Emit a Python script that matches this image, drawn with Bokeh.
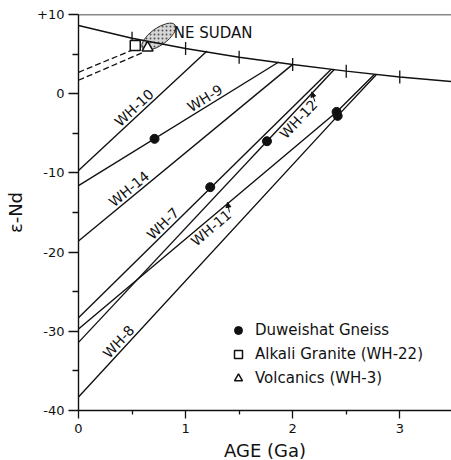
import math
import numpy as np
from bokeh.plotting import figure
from bokeh.models import (Span, Legend, LegendItem, Arrow, NormalHead, FixedTicker,
                          Range1d, Label)
from bokeh.embed import file_html
from bokeh.resources import INLINE
from bokeh.core.properties import value

# ---------------- data ----------------
# depleted-mantle evolution curve
dm_age = [0.0, 0.5, 1.0, 1.5, 2.0, 2.5, 3.0, 3.5]
dm_eps = [8.6, 7.0, 5.7, 4.6, 3.7, 2.85, 2.1, 1.5]
dm_tick_ages = [0.5, 1.0, 1.5, 2.0, 2.5, 3.0]

# Nd evolution lines of the samples
wh10_age = [0.0, 1.20]
wh10_eps = [-9.7, 5.4]
wh9_age = [0.0, 1.87]
wh9_eps = [-11.6, 4.0]
wh14_age = [0.0, 2.00]
wh14_eps = [-18.6, 3.7]
wh7_age = [0.0, 2.36]
wh7_eps = [-28.3, 3.1]
wh12_age = [0.0, 2.39]
wh12_eps = [-31.4, 3.1]
wh11_age = [0.0, 2.41, 2.76]
wh11_eps = [-29.7, -2.3, 2.4]
wh8_age = [0.0, 2.42, 2.78]
wh8_eps = [-38.3, -2.8, 2.4]

# Duweishat Gneiss (crystallisation ages)
gneiss_age = [0.71, 1.23, 1.76, 2.41, 2.42]
gneiss_eps = [-5.7, -11.8, -6.0, -2.3, -2.8]

# Alkali granite (WH-22) and volcanics (WH-3)
granite_age = [0.53]
granite_eps = [6.1]
granite_line_age = [0.0, 0.50]
granite_line_eps = [2.7, 5.5]
volc_age = [0.645]
volc_eps = [5.8]
volc_line_age = [0.0, 0.60]
volc_line_eps = [1.7, 5.2]

# NE Sudan field
sudan_age = [0.75]
sudan_eps = [7.2]

x_ticks = [0, 1, 2, 3]
x_minor = [0.5, 1.5, 2.5]
y_ticks = [-40, -30, -20, -10, 0, 10]
y_minor = [-35, -25, -15, -5, 5]
y_tick_labels = ["-40", "-30", "-20", "-10", "0", "+10"]

# ---------------- figure ----------------
FONT = "DejaVu Sans"
INK = "#111111"
X0, X1 = 0.0, 3.483
Y0, Y1 = -40.0, 10.0
FW, FH = 373, 396
KX = FW / (X1 - X0)
KY = FH / (Y1 - Y0)

p = figure(frame_width=FW, frame_height=FH,
           x_range=Range1d(X0, X1), y_range=Range1d(Y0, Y1),
           output_backend="svg", toolbar_location=None,
           min_border_left=78, min_border_right=0, min_border_top=14,
           min_border_bottom=8)
p.outline_line_color = None
p.grid.visible = False
p.background_fill_color = "white"

xa = p.xaxis[0]
xa.ticker = FixedTicker(ticks=x_ticks, minor_ticks=x_minor)
xa.major_label_overrides = {t: str(t) for t in x_ticks}
xa.major_tick_out = 8
xa.major_tick_in = 0
xa.minor_tick_out = 4
xa.minor_tick_in = 0
xa.major_label_standoff = 5
xa.axis_label = "AGE (Ga)"
xa.axis_label_standoff = 4

ya = p.yaxis[0]
ya.ticker = FixedTicker(ticks=y_ticks, minor_ticks=y_minor)
ya.major_label_overrides = {t: l for t, l in zip(y_ticks, y_tick_labels)}
ya.major_tick_out = 10
ya.major_tick_in = 0
ya.minor_tick_out = 6
ya.minor_tick_in = 0
ya.major_label_standoff = 4
ya.axis_label = "ε-Nd"
ya.axis_label_standoff = 8

for ax in (xa, ya):
    ax.axis_line_color = INK
    ax.axis_line_width = 1.4
    ax.major_tick_line_color = INK
    ax.major_tick_line_width = 1.3
    ax.minor_tick_line_color = INK
    ax.minor_tick_line_width = 1.3
    ax.major_label_text_font = FONT
    ax.major_label_text_font_size = "13px"
    ax.major_label_text_color = INK
    ax.axis_label_text_font = FONT
    ax.axis_label_text_font_size = "18px"
    ax.axis_label_text_font_style = "normal"
    ax.axis_label_text_color = INK

# top frame line at +10
p.add_layout(Span(location=Y1, dimension="width", line_color=INK, line_width=1.3))

# NE Sudan field (stippled)
p.ellipse(x=sudan_age, y=sudan_eps, width=40, height=17, angle=0.62,
          width_units="screen", height_units="screen",
          fill_color="#d6d6d6", line_color="#333333", line_width=1,
          hatch_pattern=".", hatch_color="#555555", hatch_scale=4, hatch_weight=1)
p.add_layout(Label(x=sudan_age[0], y=sudan_eps[0], x_offset=15, y_offset=4,
                   text="NE SUDAN", text_font=FONT, text_font_size="15px",
                   text_color=INK, text_baseline="middle", text_align="left"))

# depleted mantle curve and its age ticks
p.line(dm_age, dm_eps, line_color=INK, line_width=1.5)
p.scatter(x=dm_tick_ages, y=list(np.interp(dm_tick_ages, dm_age, dm_eps)),
          marker="dash", angle=math.pi / 2, size=13, line_color=INK, line_width=1.3)

# sample evolution lines
sample_lines = [
    ("WH-10", wh10_age, wh10_eps, 0.57, "above", False),
    ("WH-9", wh9_age, wh9_eps, 1.22, "above", False),
    ("WH-14", wh14_age, wh14_eps, 0.52, "above", False),
    ("WH-7", wh7_age, wh7_eps, 0.84, "above", False),
    ("WH-12", wh12_age, wh12_eps, 2.00, "below", True),
    ("WH-11", wh11_age, wh11_eps, 1.19, "below", True),
    ("WH-8", wh8_age, wh8_eps, 0.43, "above", False),
]
for name, xs, ys, ax_, side, arrow in sample_lines:
    p.line(xs, ys, line_color=INK, line_width=1.4)
    y_at = float(np.interp(ax_, xs, ys))
    i = max(1, int(np.searchsorted(xs, ax_)))
    i = min(i, len(xs) - 1)
    sl = (ys[i] - ys[i - 1]) / (xs[i] - xs[i - 1])
    th = math.atan(sl * KY / KX)
    p.text(x=[ax_], y=[y_at], text=[name], angle=[th],
           text_font=value(FONT), text_font_size="14px", text_color=INK,
           text_align="center",
           text_baseline="bottom" if side == "above" else "top")
    if arrow:
        half = 24.0
        ux, uy = math.cos(th), math.sin(th)
        nx, ny = -math.sin(th), math.cos(th)
        sx = half * ux - 8 * nx
        sy = half * uy - 8 * ny
        ex = (half + 5) * ux + 1 * nx
        ey = (half + 5) * uy + 1 * ny
        p.add_layout(Arrow(end=NormalHead(size=5, fill_color=INK, line_color=INK),
                           x_start=ax_ + sx / KX, y_start=y_at + sy / KY,
                           x_end=ax_ + ex / KX, y_end=y_at + ey / KY,
                           line_color=INK, line_width=1))

# dashed lines to granite / volcanics
p.line(granite_line_age, granite_line_eps, line_color=INK, line_width=1.3, line_dash="6 3")
p.line(volc_line_age, volc_line_eps, line_color=INK, line_width=1.3, line_dash="6 3")

# points
r_gneiss = p.scatter(gneiss_age, gneiss_eps, marker="circle", size=9,
                     fill_color=INK, line_color=INK)
r_granite = p.scatter(granite_age, granite_eps, marker="square", size=10,
                      fill_color="white", line_color=INK, line_width=1.5)
r_volc = p.scatter(volc_age, volc_eps, marker="triangle", size=11,
                   fill_color="white", line_color=INK, line_width=1.5)

legend = Legend(items=[
    LegendItem(label="Duweishat Gneiss", renderers=[r_gneiss]),
    LegendItem(label="Alkali Granite (WH-22)", renderers=[r_granite]),
    LegendItem(label="Volcanics (WH-3)", renderers=[r_volc]),
], location=(150, 22))
legend.border_line_color = None
legend.background_fill_alpha = 0
legend.padding = 0
legend.margin = 0
legend.spacing = 4
legend.glyph_width = 20
legend.glyph_height = 20
legend.label_height = 20
legend.label_standoff = 7
legend.label_text_font = FONT
legend.label_text_font_size = "15px"
legend.label_text_color = INK
p.add_layout(legend)

open("out.html", "w").write(file_html(p, INLINE))
